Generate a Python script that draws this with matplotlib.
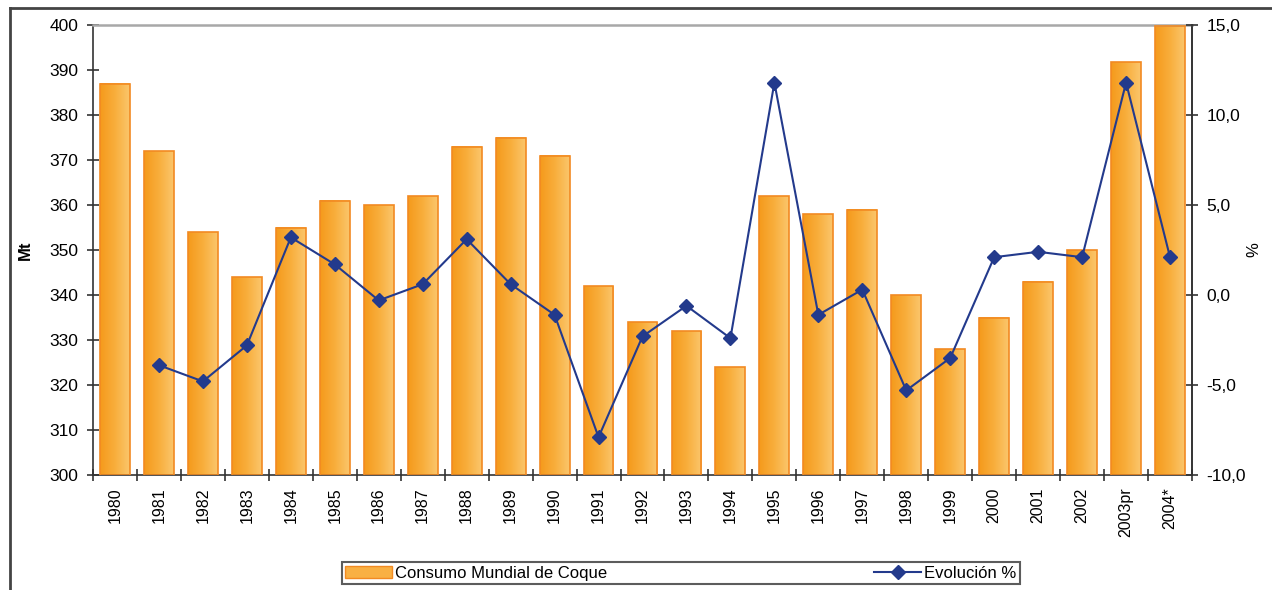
import numpy as np
import matplotlib
matplotlib.use("Agg")
from matplotlib import pyplot as plt
from matplotlib.colors import LinearSegmentedColormap
from matplotlib.lines import Line2D
from matplotlib.patches import Patch
from matplotlib.ticker import FuncFormatter, FixedLocator

# datos
years = ["1980", "1981", "1982", "1983", "1984", "1985", "1986", "1987", "1988",
         "1989", "1990", "1991", "1992", "1993", "1994", "1995", "1996", "1997",
         "1998", "1999", "2000", "2001", "2002", "2003pr", "2004*"]
consumo = [387, 372, 354, 344, 355, 361, 360, 362, 373, 375, 371, 342, 334, 332,
           324, 362, 358, 359, 340, 328, 335, 343, 350, 391.7, 399.7]
evolucion = [None, -3.9, -4.8, -2.8, 3.2, 1.7, -0.3, 0.6, 3.1, 0.6, -1.1, -7.9,
             -2.3, -0.6, -2.4, 11.8, -1.1, 0.3, -5.3, -3.5, 2.1, 2.4, 2.1, 11.8, 2.1]

plt.rcParams['font.family'] = ['Liberation Sans', 'DejaVu Sans']

fig = plt.figure(figsize=(12.72, 5.90), dpi=100)
ax = fig.add_axes([93 / 1272, 1 - 475 / 590, 1099 / 1272, 450 / 590])

x = np.arange(len(years))
width = 0.68
grad = LinearSegmentedColormap.from_list("naranja", ["#F59A1C", "#F8AE3C", "#FBC66C"])
g = np.linspace(0, 1, 64).reshape(1, -1)

# barras con degradado
for xi, v in zip(x, consumo):
    ax.imshow(g, extent=(xi - width / 2, xi + width / 2, 300, v), aspect='auto',
              cmap=grad, zorder=2, interpolation='bilinear')
ax.bar(x, np.array(consumo) - 300, bottom=300, width=width, facecolor='none',
       edgecolor='#F28A22', linewidth=1.2, zorder=3)

ax.set_xlim(-0.5, len(years) - 0.5)
ax.set_ylim(300, 400)
ax.set_yticks(range(300, 401, 10))
ax.set_xticks(x)
ax.set_xticklabels(years, rotation=90, fontsize=11.5)
ax.xaxis.set_minor_locator(FixedLocator(np.arange(-0.5, len(years), 1)))
ax.tick_params(axis='x', which='major', length=0, pad=9)
ax.tick_params(axis='x', which='minor', direction='inout', length=8, width=1.2, color='#333333')
ax.tick_params(axis='y', direction='inout', length=9, width=1.2, color='#333333',
               labelsize=12.5, pad=6)
ax.set_ylabel("Mt", fontsize=12, fontweight='bold', labelpad=12)

for s in ['left', 'bottom', 'right']:
    ax.spines[s].set_color('#333333')
    ax.spines[s].set_linewidth(1.2)
ax.spines['top'].set_color('#A8A8A8')
ax.spines['top'].set_linewidth(1.8)

# linea de evolucion
ax2 = ax.twinx()
xs = [xi for xi, e in zip(x, evolucion) if e is not None]
es = [e for e in evolucion if e is not None]
ax2.plot(xs, es, color='#233A8C', linewidth=1.5, marker='D', markersize=7, zorder=5)
ax2.set_ylim(-10, 15)
ax2.set_yticks(np.arange(-10, 15.1, 5))
ax2.yaxis.set_major_formatter(FuncFormatter(lambda v, p: f"{v:.1f}".replace('.', ',')))
ax2.tick_params(axis='y', direction='inout', length=9, width=1.2, color='#333333',
                labelsize=12.5, pad=6)
ax2.set_ylabel("%", fontsize=12, labelpad=0)
ax2.spines['right'].set_color('#333333')
ax2.spines['right'].set_linewidth(1.2)
ax2.spines['top'].set_visible(False)
ax2.spines['left'].set_visible(False)
ax2.spines['bottom'].set_visible(False)

# leyenda
handles = [Patch(facecolor='#F9B043', edgecolor='#F28A22', label='Consumo Mundial de Coque'),
           Line2D([0], [0], color='#233A8C', marker='D', markersize=7, linewidth=1.5,
                  label='Evolución %')]
leg = fig.legend(handles=handles, loc='lower left', ncol=2, mode='expand',
                 bbox_to_anchor=(342 / 1272, 6 / 590, 678 / 1272, 26 / 590),
                 fontsize=12, frameon=True, fancybox=False, borderpad=0.2,
                 handlelength=2.8, handletextpad=0.2, borderaxespad=0)
leg.get_frame().set_edgecolor('#333333')
leg.get_frame().set_linewidth(1.5)

# marco exterior
fig.add_artist(Line2D([10 / 1272, 1], [1 - 8 / 590, 1 - 8 / 590], color='#444444', linewidth=2))
fig.add_artist(Line2D([10 / 1272, 10 / 1272], [0, 1 - 8 / 590], color='#444444', linewidth=2))

fig.savefig("out.png", dpi=100)
